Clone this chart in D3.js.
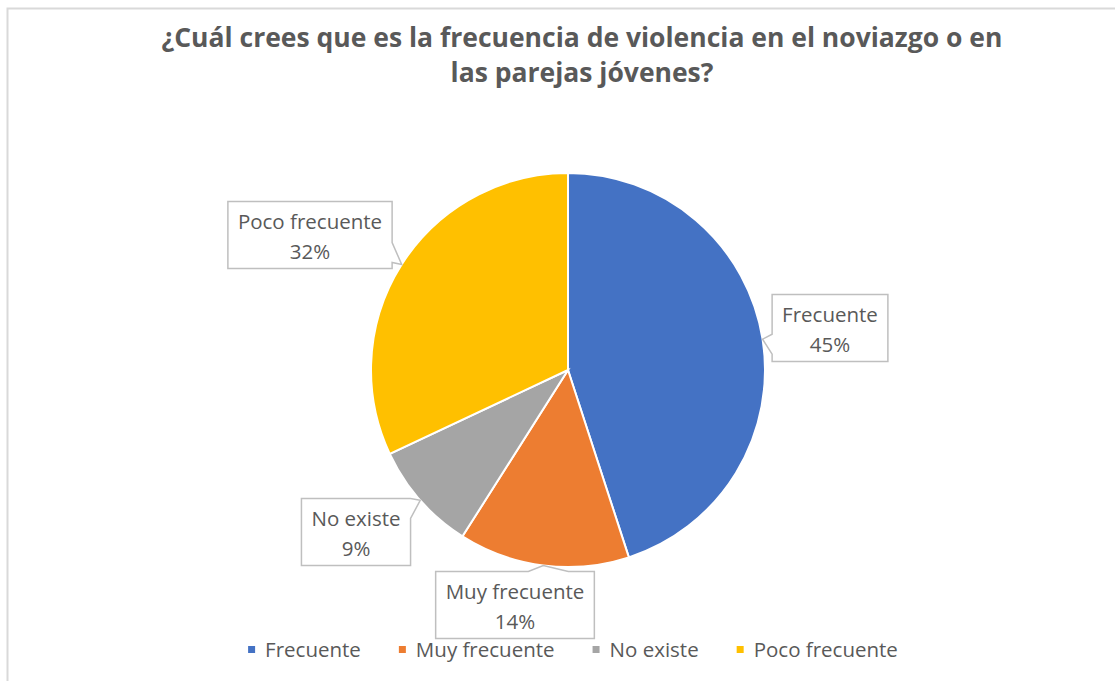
<!DOCTYPE html>
<html>
<head>
<meta charset="utf-8">
<script src="https://cdn.jsdelivr.net/npm/d3@7"></script>
<style>
  body { margin: 0; background: #fff; }
  text { font-family: "Open Sans", sans-serif; fill: #595959; }
</style>
</head>
<body>
<div id="chart"></div>
<script>
// Datos de la encuesta
const categories = ["Frecuente", "Muy frecuente", "No existe", "Poco frecuente"];
const percents = [45, 14, 9, 32];
const colors = ["#4472C4", "#ED7D31", "#A5A5A5", "#FFC000"];
const titleLines = ["¿Cuál crees que es la frecuencia de violencia en el noviazgo o en", "las parejas jóvenes?"];

// Posicion de las etiquetas (centro de la caja, relativo al centro del pastel)
const calloutOffset = {
    "Frecuente": [262, -42],
    "Muy frecuente": [-53, 235],
    "No existe": [-212, 162],
    "Poco frecuente": [-258, -135]
};

const width = 1115;
const height = 681;
const cx = 568, cy = 370, radius = 197;

const data = categories.map(function(c, i) {
    return {name: c, value: percents[i], color: colors[i]};
});

const svg = d3.select("#chart")
    .append("svg")
    .attr("width", width)
    .attr("height", height);

// borde del grafico
svg.append("rect")
    .attr("x", 7.5).attr("y", 8.5)
    .attr("width", 1120).attr("height", 690)
    .attr("fill", "none")
    .attr("stroke", "#d9d9d9")
    .attr("stroke-width", 2);

svg.selectAll(".title")
    .data(titleLines)
    .enter()
    .append("text")
        .attr("class", "title")
        .attr("x", 582)
        .attr("y", function(d, i) { return 47 + i * 35; })
        .style("text-anchor", "middle")
        .style("font-size", "26.5px")
        .style("font-weight", "bold")
        .text(function(d) { return d; });

const pie = d3.pie()
    .sort(null)
    .value(function(d) { return d.value; });

const arc = d3.arc()
    .innerRadius(0)
    .outerRadius(radius);

const arcs = pie(data);

const g = svg.append("g")
    .attr("transform", `translate(${cx},${cy})`);

g.selectAll("path")
    .data(arcs)
    .enter()
    .append("path")
        .attr("d", arc)
        .attr("fill", function(d) { return d.data.color; })
        .attr("stroke", "#fff")
        .attr("stroke-width", 2);

// Etiquetas tipo globo
const fontSize = 20.5;
const boxH = 67;

arcs.forEach(function(d) {
    const mid = (d.startAngle + d.endAngle) / 2;
    const tip = [radius * Math.sin(mid), -radius * Math.cos(mid)];
    const off = calloutOffset[d.data.name];

    const lg = g.append("g");
    const t1 = lg.append("text")
        .attr("x", off[0]).attr("y", off[1] - 13 + 7)
        .style("text-anchor", "middle")
        .style("font-size", fontSize + "px")
        .text(d.data.name);
    lg.append("text")
        .attr("x", off[0]).attr("y", off[1] + 17 + 7)
        .style("text-anchor", "middle")
        .style("font-size", fontSize + "px")
        .text(d.data.value + "%");

    const w = t1.node().getComputedTextLength() + 20;
    const x0 = off[0] - w / 2, x1 = off[0] + w / 2;
    const y0 = off[1] - boxH / 2, y1 = off[1] + boxH / 2;

    // lado del globo que apunta al pastel
    let pts;
    const half = 10;
    const clamp = function(v, a, b) { return Math.max(a, Math.min(b, v)); };
    if (tip[0] < x0) {
        const m = clamp(tip[1] + 5, y0 + half + 2, y1 - half - 2);
        pts = [[x0, y0], [x1, y0], [x1, y1], [x0, y1], [x0, m + half], tip, [x0, m - half]];
    } else if (tip[0] > x1) {
        const m = clamp(tip[1] - 5, y0 + half, y1 - half - 6);
        pts = [[x0, y0], [x1, y0], [x1, m - half], tip, [x1, m + half], [x1, y1], [x0, y1]];
    } else if (tip[1] < y0) {
        const m = clamp(tip[0] + 3, x0 + half, x1 - half);
        pts = [[x0, y0], [m - 18, y0], tip, [m + 22, y0], [x1, y0], [x1, y1], [x0, y1]];
    } else {
        pts = [[x0, y0], [x1, y0], [x1, y1], [x0, y1]];
    }

    lg.insert("path", "text")
        .attr("d", "M" + pts.map(function(p) { return p.join(","); }).join("L") + "Z")
        .attr("fill", "#fff")
        .attr("stroke", "#bfbfbf")
        .attr("stroke-width", 1.5);
});

// Leyenda
const legend = svg.append("g");
const items = legend.selectAll("g")
    .data(data)
    .enter()
    .append("g");

items.append("rect")
    .attr("width", 7).attr("height", 7)
    .attr("y", -11)
    .attr("fill", function(d) { return d.color; });

items.append("text")
    .attr("x", 17)
    .attr("y", 0)
    .style("font-size", fontSize + "px")
    .text(function(d) { return d.name; });

let xPos = 0;
items.each(function() {
    const item = d3.select(this);
    item.attr("transform", `translate(${xPos},0)`);
    xPos += 17 + item.select("text").node().getComputedTextLength() + 38;
});
const legendW = xPos - 38;
legend.attr("transform", `translate(${573 - legendW / 2},657)`);
</script>
</body>
</html>
